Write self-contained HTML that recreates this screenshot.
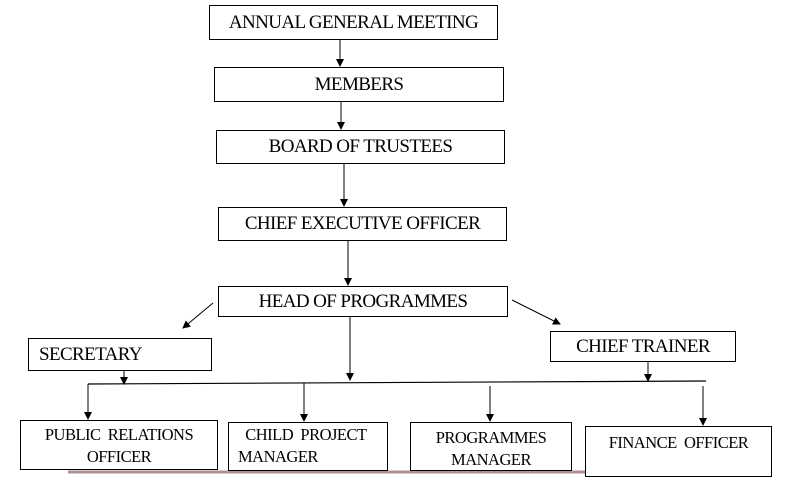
<!DOCTYPE html>
<html><head><style>
body{margin:0;width:787px;height:477px;background:#fff;overflow:hidden;position:relative;font-family:"Liberation Serif",serif;}
.b{position:absolute;border:1px solid #000;box-sizing:border-box;background:#fff;color:#000;text-align:center;font-size:19px;letter-spacing:-0.6px;white-space:nowrap;}
.s{font-size:16.5px;line-height:22px;letter-spacing:-0.5px;}
svg{position:absolute;left:0;top:0;}
</style></head><body>
<svg width="787" height="477">
<defs><marker id="a" markerWidth="8" markerHeight="8" refX="7" refY="4" orient="auto" markerUnits="userSpaceOnUse"><path d="M0,0 L8,4 L0,8z" fill="#000"/></marker></defs>
<g stroke="#000" stroke-width="1" fill="none">
<line x1="340" y1="39" x2="340" y2="66" marker-end="url(#a)"/>
<line x1="341" y1="101" x2="341" y2="129" marker-end="url(#a)"/>
<line x1="344" y1="163" x2="344" y2="206" marker-end="url(#a)"/>
<line x1="348" y1="240" x2="348" y2="285" marker-end="url(#a)"/>
<line x1="213" y1="303" x2="183" y2="328" marker-end="url(#a)"/>
<line x1="512" y1="300" x2="560" y2="324" marker-end="url(#a)"/>
<line x1="350" y1="316" x2="350" y2="380" marker-end="url(#a)"/>
<line x1="124" y1="370" x2="124" y2="384" marker-end="url(#a)"/>
<line x1="648" y1="361" x2="648" y2="381" marker-end="url(#a)"/>
<line x1="88" y1="384" x2="706" y2="381" stroke-width="1.2"/>
<line x1="88" y1="384" x2="88" y2="419" marker-end="url(#a)"/>
<line x1="304" y1="383" x2="304" y2="421" marker-end="url(#a)"/>
<line x1="490" y1="386" x2="490" y2="421" marker-end="url(#a)"/>
<line x1="703" y1="386" x2="703" y2="425" marker-end="url(#a)"/>
</g>
<line x1="68" y1="472" x2="585" y2="472" stroke="#b09090" stroke-width="3"/>
</svg>
<div class="b" style="left:209px;top:5px;width:289px;height:35px;line-height:33px">ANNUAL GENERAL MEETING</div>
<div class="b" style="left:214px;top:67px;width:290px;height:35px;line-height:33px">MEMBERS</div>
<div class="b" style="left:216px;top:130px;width:289px;height:34px;line-height:32px">BOARD OF TRUSTEES</div>
<div class="b" style="left:218px;top:207px;width:289px;height:34px;line-height:32px">CHIEF EXECUTIVE OFFICER</div>
<div class="b" style="left:218px;top:286px;width:290px;height:31px;line-height:29px">HEAD OF PROGRAMMES</div>
<div class="b" style="left:28px;top:338px;width:184px;height:33px;line-height:31px;text-align:left;padding-left:10px">SECRETARY</div>
<div class="b" style="left:550px;top:331px;width:186px;height:31px;line-height:29px">CHIEF TRAINER</div>
<div class="b s" style="left:20px;top:420px;width:198px;height:50px;padding-top:3px">PUBLIC&nbsp; RELATIONS<br>OFFICER</div>
<div class="b s" style="left:228px;top:422px;width:160px;height:49px;padding-top:1px;text-align:left;padding-left:9px">&nbsp; CHILD&nbsp; PROJECT<br>MANAGER</div>
<div class="b s" style="left:410px;top:422px;width:162px;height:49px;padding-top:4px">PROGRAMMES<br>MANAGER</div>
<div class="b s" style="left:585px;top:426px;width:187px;height:51px;padding-top:5px">FINANCE&nbsp; OFFICER</div>
</body></html>
